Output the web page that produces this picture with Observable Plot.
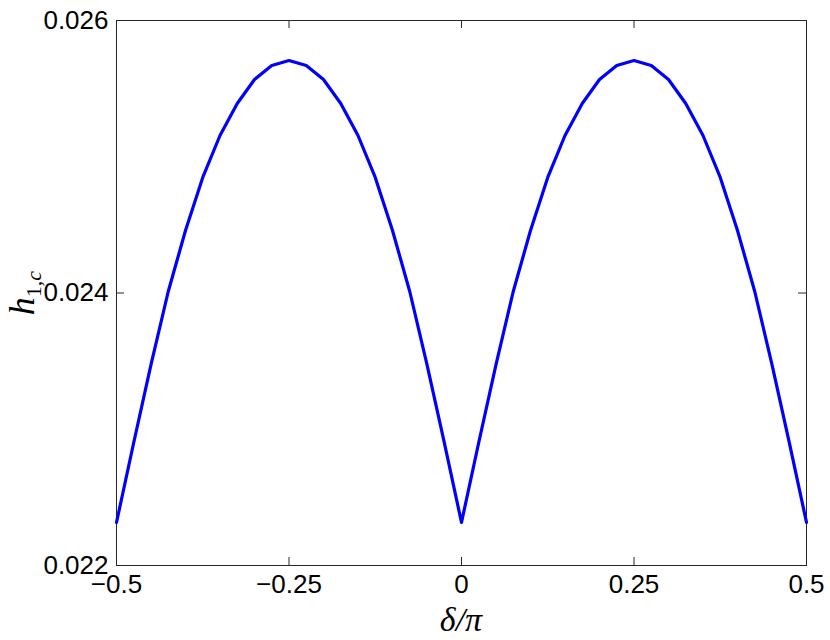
<!DOCTYPE html>
<html><head><meta charset="utf-8">
<script src="https://cdn.jsdelivr.net/npm/d3@7"></script>
<script src="https://cdn.jsdelivr.net/npm/@observablehq/plot@0.6"></script>
<style>body{margin:0;background:#fff}</style>
</head><body><div id="chart"></div>
<script>
const delta = [-0.5,-0.475,-0.45,-0.425,-0.4,-0.375,-0.35,-0.325,-0.3,-0.275,-0.25,-0.225,-0.2,-0.175,-0.15,-0.125,-0.1,-0.075,-0.05,-0.025,0,
  0.025,0.05,0.075,0.1,0.125,0.15,0.175,0.2,0.225,0.25,0.275,0.3,0.325,0.35,0.375,0.4,0.425,0.45,0.475,0.5];
const h1c = [0.022316,0.022903,0.023475,0.024011,0.024459,0.024848,0.025156,0.025391,0.025567,0.025670,0.025706,
  0.025670,0.025567,0.025391,0.025156,0.024848,0.024459,0.024011,0.023475,0.022903,0.022316,
  0.022903,0.023475,0.024011,0.024459,0.024848,0.025156,0.025391,0.025567,0.025670,0.025706,
  0.025670,0.025567,0.025391,0.025156,0.024848,0.024459,0.024011,0.023475,0.022903,0.022316];
const xTicks = [-0.5,-0.25,0,0.25,0.5];
const xTickLabels = ["\u22120.5","\u22120.25","0","0.25","0.5"];
const yTicks = [0.022,0.024,0.026];
const yTickLabels = ["0.022","0.024","0.026"];

const data = delta.map((d,i)=>({delta:d,h:h1c[i]}));
const W=830,H=640,mL=116,mR=24,mT=20,mB=75,tick=8;
const fw=W-mL-mR, fh=H-mT-mB;
const axisColor="#262626";
const chart = Plot.plot({
  width:W,height:H,marginLeft:mL,marginRight:mR,marginTop:mT,marginBottom:mB,
  style:{fontFamily:"'Liberation Sans', Arial, Helvetica, sans-serif",fontSize:"26px",color:"#000",background:"#fff"},
  x:{domain:[-0.5,0.5]},
  y:{domain:[0.022,0.026]},
  marks:[
    Plot.frame({stroke:axisColor,strokeWidth:1}),
    Plot.tickX(xTicks,{x:d=>d,insetTop:fh-tick,stroke:axisColor}),
    Plot.tickX(xTicks,{x:d=>d,insetBottom:fh-tick,stroke:axisColor}),
    Plot.tickY(yTicks,{y:d=>d,insetRight:fw-tick,stroke:axisColor}),
    Plot.tickY(yTicks,{y:d=>d,insetLeft:fw-tick,stroke:axisColor}),
    Plot.axisX(xTicks,{tickSize:0,tickPadding:9,label:null,fill:"#000",tickFormat:(d)=>xTickLabels[xTicks.indexOf(d)]}),
    Plot.axisY(yTicks,{tickSize:0,tickPadding:8,label:null,fill:"#000",tickFormat:(d)=>yTickLabels[yTicks.indexOf(d)]}),
    Plot.line(data,{x:"delta",y:"h",stroke:"#0000ff",strokeWidth:3.2})
  ]
});
const svg = d3.select(chart);
const yl = svg.append("text")
  .attr("transform","translate(34,293) rotate(-90)")
  .attr("text-anchor","middle")
  .attr("font-family","'Liberation Serif', 'Times New Roman', serif")
  .attr("fill","#000");
yl.append("tspan").attr("font-style","italic").attr("font-size","36px").text("h");
yl.append("tspan").attr("font-size","22px").attr("dy","7").text("1,");
yl.append("tspan").attr("font-size","22px").attr("font-style","italic").text("c");
svg.append("text")
  .attr("x",461).attr("y",631)
  .attr("text-anchor","middle")
  .attr("font-family","'Liberation Serif', 'Times New Roman', serif")
  .attr("font-style","italic")
  .attr("font-size","34px")
  .attr("fill","#000")
  .text("\u03b4/\u03c0");
document.getElementById("chart").appendChild(chart);
</script>
</body></html>
